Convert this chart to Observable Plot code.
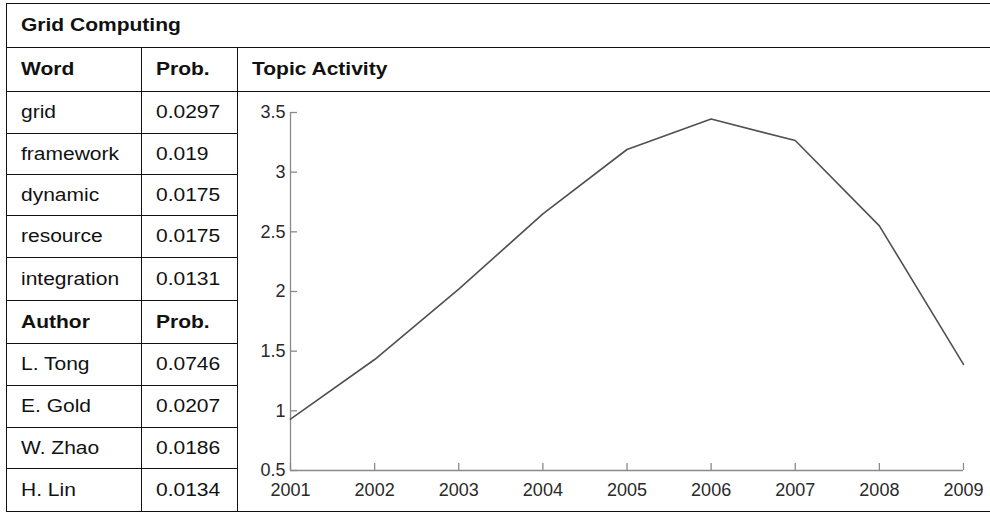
<!DOCTYPE html>
<html><head><meta charset="utf-8">
<script src="https://cdn.jsdelivr.net/npm/d3@7"></script>
<script src="https://cdn.jsdelivr.net/npm/@observablehq/plot@0.6"></script>
<style>
html,body{margin:0;padding:0;background:#fff;}
#page{position:relative;width:990px;height:515px;overflow:hidden;font-family:"Liberation Sans",Arial,sans-serif;background:#fff;}
table{position:absolute;left:6px;top:3px;width:1000px;border-collapse:collapse;table-layout:fixed;}
td{border:1.5px solid #111;padding:0 0 0 14px;font-size:17.5px;color:#111;vertical-align:middle;white-space:nowrap;overflow:visible;box-sizing:border-box;}
td span{display:inline-block;transform:scaleX(1.2);transform-origin:left center;}
td.b{font-weight:bold;}
td.c{padding:0;}
#chart{position:absolute;left:239px;top:93px;}
</style>
</head><body>
<div id="page">
<table id="tbl"><colgroup><col style="width:135px"><col style="width:96px"><col></colgroup><tbody></tbody></table>
<div id="chart"></div>
</div>
<script>
// ---- data ----
const title = "Grid Computing";
const wordHeader = ["Word", "Prob.", "Topic Activity"];
const words = ["grid", "framework", "dynamic", "resource", "integration"];
const wordProbs = ["0.0297", "0.019", "0.0175", "0.0175", "0.0131"];
const authorHeader = ["Author", "Prob."];
const authors = ["L. Tong", "E. Gold", "W. Zhao", "H. Lin"];
const authorProbs = ["0.0746", "0.0207", "0.0186", "0.0134"];
const years = [2001, 2002, 2003, 2004, 2005, 2006, 2007, 2008, 2009];
const activity = [0.93, 1.43, 2.02, 2.65, 3.19, 3.445, 3.265, 2.55, 1.39];
const xTickLabels = ["2001", "2002", "2003", "2004", "2005", "2006", "2007", "2008", "2009"];
const yTicks = [0.5, 1, 1.5, 2, 2.5, 3, 3.5];
const yTickLabels = ["0.5", "1", "1.5", "2", "2.5", "3", "3.5"];

// ---- table layout ----
const rowHeights = [44, 44, 42, 41, 41, 42, 43, 43, 42, 42, 41, 43];
const tbody = document.querySelector("#tbl tbody");
function cell(tr, text, cls, attrs) {
  const td = document.createElement("td");
  if (cls) td.className = cls;
  if (attrs) for (const k in attrs) td.setAttribute(k, attrs[k]);
  if (text != null) { const s = document.createElement("span"); s.textContent = text; td.appendChild(s); }
  tr.appendChild(td);
  return td;
}
let r = 0;
function row() { const tr = document.createElement("tr"); tr.style.height = rowHeights[r++] + "px"; tbody.appendChild(tr); return tr; }
let tr = row(); cell(tr, title, "b", {colspan: 3});
tr = row(); wordHeader.forEach(t => cell(tr, t, "b"));
words.forEach((w, i) => {
  tr = row(); cell(tr, w); cell(tr, wordProbs[i]);
  if (i === 0) cell(tr, null, "c", {rowspan: words.length + 1 + authors.length});
});
tr = row(); authorHeader.forEach(t => cell(tr, t, "b"));
authors.forEach((a, i) => { tr = row(); cell(tr, a); cell(tr, authorProbs[i]); });

// ---- chart ----
const W = 751, H = 418, mL = 51, mT = 19, mR = 27, mB = 41;
const innerW = W - mL - mR, innerH = H - mT - mB;
const tick = 7;
const axisGrey = "#8a8a8a";
const data = years.map((y, i) => ({year: y, value: activity[i]}));
const xDomain = [years[0], years[years.length - 1]];
const yDomain = [yTicks[0], yTicks[yTicks.length - 1]];
const chart = Plot.plot({
  width: W, height: H,
  marginLeft: mL, marginTop: mT, marginRight: mR, marginBottom: mB,
  style: {background: "transparent", fontFamily: "'Liberation Sans', Arial, sans-serif", fontSize: "18px", color: "#2a2a2a"},
  x: {domain: xDomain},
  y: {domain: yDomain},
  marks: [
    Plot.ruleY([yDomain[0]], {stroke: axisGrey, strokeWidth: 1.3}),
    Plot.ruleX([xDomain[0]], {stroke: axisGrey, strokeWidth: 1.3}),
    Plot.ruleX(years, {x: d => d, insetTop: innerH - tick, stroke: axisGrey, strokeWidth: 1.3}),
    Plot.ruleY(yTicks, {y: d => d, insetRight: innerW - tick, stroke: axisGrey, strokeWidth: 1.3}),
    Plot.axisX({ticks: years, tickSize: 0, tickPadding: 13, tickFormat: (d, i) => xTickLabels[i], label: null}),
    Plot.axisY({ticks: yTicks, tickSize: 0, tickPadding: 5, tickFormat: (d, i) => yTickLabels[i], label: null}),
    Plot.line(data, {x: "year", y: "value", stroke: "#505050", strokeWidth: 1.6})
  ]
});
document.getElementById("chart").appendChild(chart);
</script>
</body></html>
